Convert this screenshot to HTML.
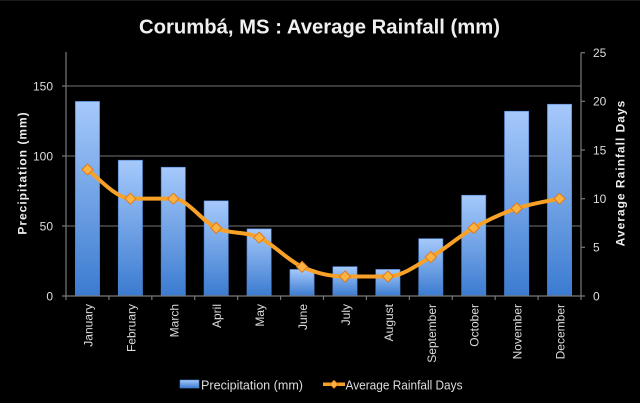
<!DOCTYPE html>
<html>
<head>
<meta charset="utf-8">
<style>
  html,body{margin:0;padding:0;background:#000;}
  svg{display:block;}
  text{font-family:"Liberation Sans",sans-serif;}
</style>
</head>
<body>
<svg width="640" height="403" viewBox="0 0 640 403" xmlns="http://www.w3.org/2000/svg">
  <defs>
    <linearGradient id="bg" x1="0" y1="0" x2="0" y2="1">
      <stop offset="0" stop-color="#a6c9fb"/>
      <stop offset="1" stop-color="#3b7bd0"/>
    </linearGradient>
  </defs>
  <rect x="0" y="0" width="640" height="403" fill="#000"/>
  <rect x="0" y="0" width="640" height="1" fill="#1a1a1a"/>

  <!-- Title -->
  <text x="139" y="33.3" font-size="20" font-weight="bold" fill="#f0f0f0" textLength="361" lengthAdjust="spacingAndGlyphs">Corumbá, MS : Average Rainfall (mm)</text>

  <!-- Gridlines -->
  <g stroke="#5c5c5c" stroke-width="1.3">
    <line x1="66" y1="86" x2="581" y2="86"/>
    <line x1="66" y1="156" x2="581" y2="156"/>
    <line x1="66" y1="226" x2="581" y2="226"/>
  </g>

  <!-- Bars -->
  <g fill="url(#bg)" stroke="#4a82cf" stroke-width="0.6">
    <rect x="75.31" y="101.4" width="24.3" height="194.6"/>
    <rect x="118.23" y="160.2" width="24.3" height="135.8"/>
    <rect x="161.14" y="167.2" width="24.3" height="128.8"/>
    <rect x="204.06" y="200.8" width="24.3" height="95.2"/>
    <rect x="246.98" y="228.8" width="24.3" height="67.2"/>
    <rect x="289.89" y="269.4" width="24.3" height="26.6"/>
    <rect x="332.81" y="266.6" width="24.3" height="29.4"/>
    <rect x="375.73" y="269.4" width="24.3" height="26.6"/>
    <rect x="418.64" y="238.6" width="24.3" height="57.4"/>
    <rect x="461.56" y="195.2" width="24.3" height="100.8"/>
    <rect x="504.48" y="111.2" width="24.3" height="184.8"/>
    <rect x="547.39" y="104.2" width="24.3" height="191.8"/>
  </g>

  <!-- Axes -->
  <g stroke="#7a7a7a" stroke-width="1.2" fill="none">
    <line x1="66" y1="52" x2="66" y2="296"/>
    <line x1="581" y1="52.7" x2="581" y2="296"/>
    <line x1="62" y1="296" x2="585" y2="296"/>
    <line x1="62" y1="86" x2="66" y2="86"/>
    <line x1="62" y1="156" x2="66" y2="156"/>
    <line x1="62" y1="226" x2="66" y2="226"/>
    <line x1="581" y1="52.7" x2="585" y2="52.7"/>
    <line x1="581" y1="101.3" x2="585" y2="101.3"/>
    <line x1="581" y1="150" x2="585" y2="150"/>
    <line x1="581" y1="198.7" x2="585" y2="198.7"/>
    <line x1="581" y1="247.3" x2="585" y2="247.3"/>
    <line x1="66" y1="296" x2="66" y2="300"/>
    <line x1="108.92" y1="296" x2="108.92" y2="300"/>
    <line x1="151.83" y1="296" x2="151.83" y2="300"/>
    <line x1="194.75" y1="296" x2="194.75" y2="300"/>
    <line x1="237.67" y1="296" x2="237.67" y2="300"/>
    <line x1="280.58" y1="296" x2="280.58" y2="300"/>
    <line x1="323.5" y1="296" x2="323.5" y2="300"/>
    <line x1="366.42" y1="296" x2="366.42" y2="300"/>
    <line x1="409.33" y1="296" x2="409.33" y2="300"/>
    <line x1="452.25" y1="296" x2="452.25" y2="300"/>
    <line x1="495.17" y1="296" x2="495.17" y2="300"/>
    <line x1="538.08" y1="296" x2="538.08" y2="300"/>
    <line x1="581" y1="296" x2="581" y2="300"/>
  </g>

  <!-- Line series -->
  <path fill="none" stroke="#f7a128" stroke-width="4" stroke-linejoin="round" stroke-linecap="round"
    d="M87.46,169.47
       C94.61,174.34 116.07,198.67 130.375,198.67
       C144.68,198.67 158.98,198.67 173.29,198.67
       C187.60,198.67 201.90,221.38 216.21,227.87
       C230.52,234.36 244.82,231.11 259.125,237.60
       C273.43,244.09 287.73,260.31 302.04,266.80
       C316.35,273.29 330.65,276.53 344.96,276.53
       C359.27,276.53 373.57,276.53 387.875,276.53
       C402.18,276.53 416.48,265.18 430.79,257.07
       C445.10,248.96 459.40,235.98 473.71,227.87
       C488.02,219.76 502.32,213.27 516.625,208.40
       C530.93,203.53 552.39,200.29 559.54,198.67"/>
  <g fill="#fbb444" stroke="#e07a18" stroke-width="1">
    <path d="M87.46,163.97 l5.5,5.5 l-5.5,5.5 l-5.5,-5.5z"/>
    <path d="M130.375,193.17 l5.5,5.5 l-5.5,5.5 l-5.5,-5.5z"/>
    <path d="M173.29,193.17 l5.5,5.5 l-5.5,5.5 l-5.5,-5.5z"/>
    <path d="M216.21,222.37 l5.5,5.5 l-5.5,5.5 l-5.5,-5.5z"/>
    <path d="M259.125,232.10 l5.5,5.5 l-5.5,5.5 l-5.5,-5.5z"/>
    <path d="M302.04,261.30 l5.5,5.5 l-5.5,5.5 l-5.5,-5.5z"/>
    <path d="M344.96,271.03 l5.5,5.5 l-5.5,5.5 l-5.5,-5.5z"/>
    <path d="M387.875,271.03 l5.5,5.5 l-5.5,5.5 l-5.5,-5.5z"/>
    <path d="M430.79,251.57 l5.5,5.5 l-5.5,5.5 l-5.5,-5.5z"/>
    <path d="M473.71,222.37 l5.5,5.5 l-5.5,5.5 l-5.5,-5.5z"/>
    <path d="M516.625,202.90 l5.5,5.5 l-5.5,5.5 l-5.5,-5.5z"/>
    <path d="M559.54,193.17 l5.5,5.5 l-5.5,5.5 l-5.5,-5.5z"/>
  </g>

  <!-- Left tick labels -->
  <g font-size="12" fill="#dcdcdc" text-anchor="end">
    <text x="53" y="90.3">150</text>
    <text x="53" y="160.3">100</text>
    <text x="53" y="230.3">50</text>
    <text x="53" y="300.6">0</text>
  </g>
  <!-- Right tick labels -->
  <g font-size="12" fill="#dcdcdc" text-anchor="start">
    <text x="593" y="57">25</text>
    <text x="593" y="105.6">20</text>
    <text x="593" y="154.3">15</text>
    <text x="593" y="203">10</text>
    <text x="593" y="251.6">5</text>
    <text x="593" y="300.6">0</text>
  </g>

  <!-- Axis titles -->
  <text transform="translate(26.5,173) rotate(-90)" text-anchor="middle" font-size="12" font-weight="bold" fill="#eeeeee" letter-spacing="1">Precipitation (mm)</text>
  <text transform="translate(624.5,173) rotate(-90)" text-anchor="middle" font-size="12" font-weight="bold" fill="#eeeeee" letter-spacing="1">Average Rainfall Days</text>

  <!-- Category labels -->
  <g font-size="12" fill="#dcdcdc" text-anchor="end">
    <text transform="translate(92.5,304) rotate(-90)">January</text>
    <text transform="translate(135.4,304) rotate(-90)">February</text>
    <text transform="translate(178.3,304) rotate(-90)">March</text>
    <text transform="translate(221.2,304) rotate(-90)">April</text>
    <text transform="translate(264.1,304) rotate(-90)">May</text>
    <text transform="translate(307,304) rotate(-90)">June</text>
    <text transform="translate(350,304) rotate(-90)">July</text>
    <text transform="translate(392.9,304) rotate(-90)">August</text>
    <text transform="translate(435.8,304) rotate(-90)">September</text>
    <text transform="translate(478.7,304) rotate(-90)">October</text>
    <text transform="translate(521.6,304) rotate(-90)">November</text>
    <text transform="translate(564.5,304) rotate(-90)">December</text>
  </g>

  <!-- Legend -->
  <rect x="180" y="380" width="19" height="8" fill="url(#bg)" stroke="#4a82cf" stroke-width="0.6"/>
  <text x="201" y="389.3" font-size="12.5" fill="#dcdcdc" textLength="102" lengthAdjust="spacingAndGlyphs">Precipitation (mm)</text>
  <line x1="323" y1="384.3" x2="345" y2="384.3" stroke="#f7a128" stroke-width="3.5"/>
  <path d="M334,380.3 l4,4 l-4,4 l-4,-4z" fill="#fbb444" stroke="#e07a18" stroke-width="0.8"/>
  <text x="345.5" y="389.3" font-size="12.5" fill="#dcdcdc" textLength="117" lengthAdjust="spacingAndGlyphs">Average Rainfall Days</text>
</svg>
</body>
</html>
